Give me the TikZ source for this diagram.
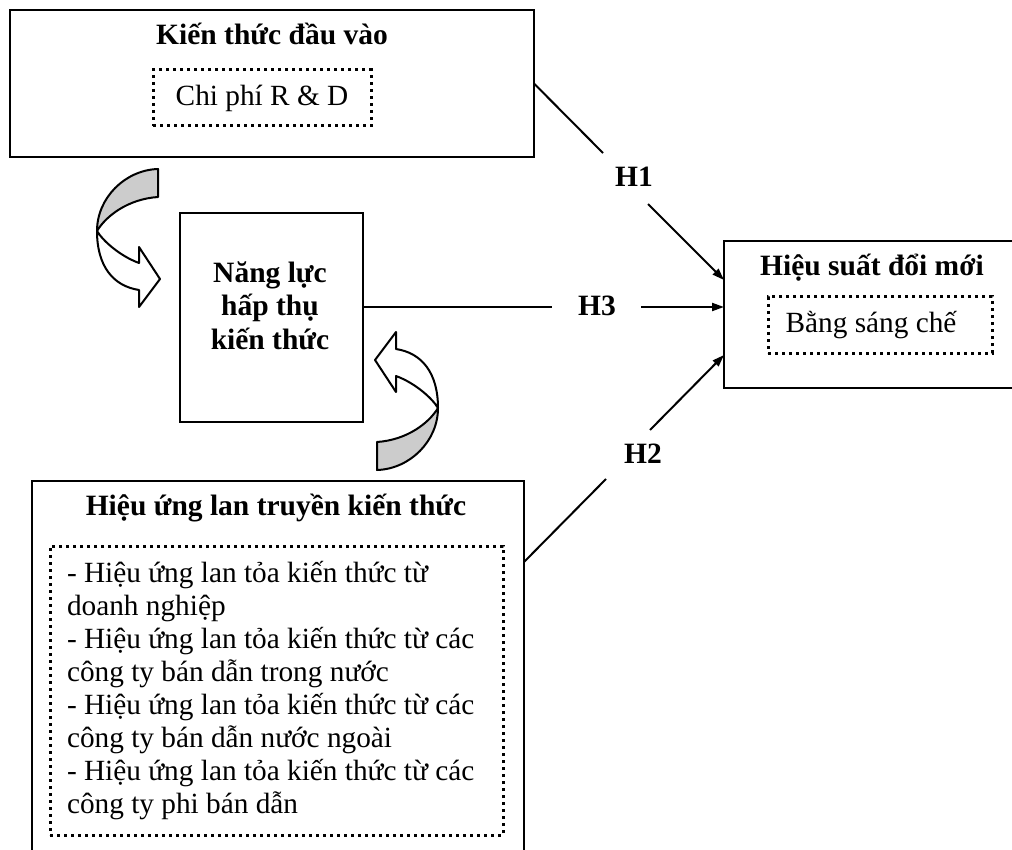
\documentclass[tikz,border=0pt]{standalone}
\usepackage{fontspec}
\setmainfont{Liberation Serif}
\usetikzlibrary{arrows.meta,calc}

% Twisted ribbon arrow: grey back band on top, white front band ending in a head
\newcommand{\bentarrow}{%
  \filldraw[twist, fill=gray!40]
    (158,169) .. controls (125,170) and (97,198) .. (97,231)
    .. controls (106,216) and (128,199) .. (158,197) -- cycle;
  \filldraw[twist, fill=white]
    (97,231) .. controls (103,241) and (120,256) .. (139,263)
    -- (139,247) -- (160,279) -- (139,307) -- (139,290)
    .. controls (113,286) and (97,266) .. (97,231) -- cycle;
}

\begin{document}
\begin{tikzpicture}[x=1pt,y=-1pt,
  font=\fontsize{29.3}{33}\selectfont,
  every node/.style={inner sep=0pt, outer sep=0pt},
  box/.style={draw, line width=2.4pt, fill=white},
  dotbox/.style={draw, line width=3pt, dash pattern=on 3pt off 4pt},
  title/.style={font=\fontsize{29.5}{33}\selectfont\bfseries},
  link/.style={line width=2pt},
  linkarrow/.style={link, -{Triangle[length=12pt,width=8pt]}},
  twist/.style={draw, line width=2pt, line join=round}
]
\fill[white] (0,0) rectangle (1012,850);
\clip (0,0) rectangle (1012,850);

% input knowledge
\node[box, minimum width=524pt, minimum height=147pt] (kt) at (272,83.5) {};
\node[title, anchor=base] (kttitle) at (272,45) {Kiến thức đầu vào};
\node[dotbox, minimum width=218pt, minimum height=56pt] (rd) at (262,98) {};
\node[anchor=base] (rdtext) at (262,106) {Chi phí R \& D};

% innovation performance
\node[box, minimum width=306pt, minimum height=147pt] (hs) at (877,314.5) {};
\node[title, anchor=base] (hstitle) at (872,276) {Hiệu suất đổi mới};
\node[dotbox, minimum width=224pt, minimum height=56pt] (bsc) at (880,325) {};
\node[anchor=base] (bsctext) at (871,333) {Bằng sáng chế};

% absorptive capacity
\node[box, minimum width=183pt, minimum height=209pt] (nl) at (271.5,317.5) {};
\node[title, anchor=base] (nl1) at (270,283) {Năng lực};
\node[title, anchor=base] (nl2) at (270,316) {hấp thụ};
\node[title, anchor=base] (nl3) at (270,349) {kiến thức};

% knowledge spillovers
\node[box, minimum width=492pt, minimum height=419pt] (bl) at (278,690.5) {};
\node[title, anchor=base] (bltitle) at (276,515) {Hiệu ứng lan truyền kiến thức};
\node[dotbox, minimum width=453pt, minimum height=289pt] (list) at (276.5,690.5) {};
\foreach \t [count=\i] in {
  - Hiệu ứng lan tỏa kiến thức từ,
  doanh nghiệp,
  - Hiệu ứng lan tỏa kiến thức từ các,
  công ty bán dẫn trong nước,
  - Hiệu ứng lan tỏa kiến thức từ các,
  công ty bán dẫn nước ngoài,
  - Hiệu ứng lan tỏa kiến thức từ các,
  công ty phi bán dẫn}
  \node[anchor=base west, name=li\i] at (67,{582+33*(\i-1)}) {\t};

% H1
\coordinate (h1a) at (603,153);
\coordinate (h1b) at (648,204);
\coordinate (h1e) at ($(hs.north west)+(0,39)$);
\draw[link] (kt.east) -- (h1a);
\node[title, anchor=base] (h1) at (634,187) {H1};
\draw[linkarrow] (h1b) -- (h1e);

% H3
\coordinate (h3a) at (552,307);
\coordinate (h3b) at (641,307);
\draw[link] (nl.east |- h3a) -- (h3a);
\node[title, anchor=base] (h3) at (597,316) {H3};
\draw[linkarrow] (h3b) -- (hs.west |- h3b);

% H2
\coordinate (h2s) at ($(bl.north east)+(0,81)$);
\coordinate (h2a) at (606,479);
\coordinate (h2b) at (650,430);
\coordinate (h2e) at ($(hs.south west)+(0,-33)$);
\draw[link] (h2s) -- (h2a);
\node[title, anchor=base] (h2) at (643,463) {H2};
\draw[linkarrow] (h2b) -- (h2e);

% feedback arrows around the absorptive capacity box
\bentarrow
\begin{scope}[rotate around={180:(267.5,319.5)}]
  \bentarrow
\end{scope}
\end{tikzpicture}
\end{document}
